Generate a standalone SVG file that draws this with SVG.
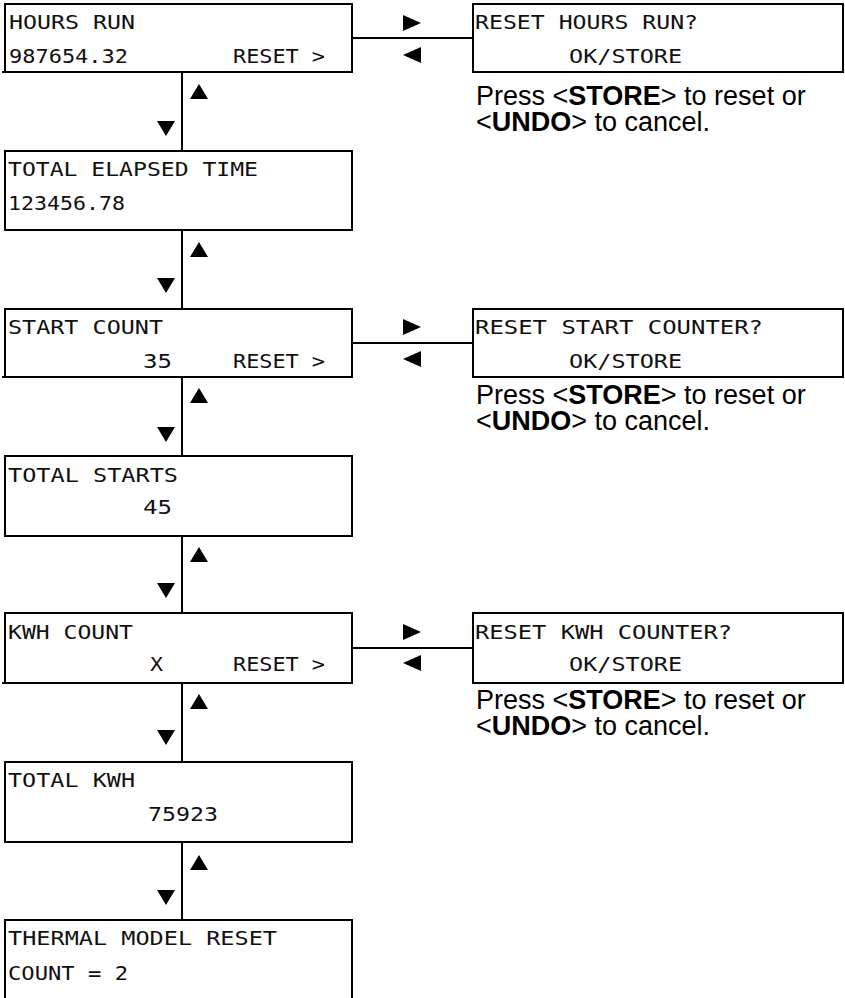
<svg xmlns="http://www.w3.org/2000/svg" width="845" height="998" viewBox="0 0 845 998">
<style>
.box{fill:#fff;stroke:#000;stroke-width:2}
.lcd{font-family:"DejaVu Sans Mono","Liberation Mono",monospace;font-size:20px;fill:#111}
.note{font-family:"Liberation Sans",Arial,sans-serif;font-size:27px;fill:#000}
.note .b{font-weight:bold}
.ln{stroke:#000;stroke-width:2;fill:none}
.tri{fill:#000}
</style>
<defs>
<polygon id="up" points="9,0 18,15 0,15"/>
<polygon id="down" points="0,0 18,0 9,15"/>
<polygon id="right" points="0,0 18,8 0,16"/>
<polygon id="left" points="18,0 0,8 18,16"/>
</defs>
<rect width="845" height="998" fill="#fff"/>
<g id="connectors">
<line class="ln" x1="182" y1="72" x2="182" y2="151"/>
<line class="ln" x1="182" y1="230" x2="182" y2="309"/>
<line class="ln" x1="182" y1="377" x2="182" y2="456"/>
<line class="ln" x1="182" y1="536" x2="182" y2="613"/>
<line class="ln" x1="182" y1="683" x2="182" y2="762"/>
<line class="ln" x1="182" y1="842" x2="182" y2="920"/>
<line class="ln" x1="352" y1="38" x2="473" y2="38"/>
<line class="ln" x1="352" y1="343" x2="473" y2="343"/>
<line class="ln" x1="352" y1="648" x2="473" y2="648"/>
<use href="#up" class="tri" x="190" y="84"/><use href="#down" class="tri" x="157" y="121"/>
<use href="#up" class="tri" x="190" y="242"/><use href="#down" class="tri" x="157" y="278"/>
<use href="#up" class="tri" x="190" y="388"/><use href="#down" class="tri" x="157" y="427"/>
<use href="#up" class="tri" x="190" y="547"/><use href="#down" class="tri" x="157" y="583"/>
<use href="#up" class="tri" x="190" y="694"/><use href="#down" class="tri" x="157" y="730"/>
<use href="#up" class="tri" x="190" y="855"/><use href="#down" class="tri" x="157" y="890"/>
<use href="#right" class="tri" x="403" y="15"/><use href="#left" class="tri" x="403" y="47"/>
<use href="#right" class="tri" x="403" y="319"/><use href="#left" class="tri" x="403" y="351"/>
<use href="#right" class="tri" x="403" y="624"/><use href="#left" class="tri" x="403" y="655"/>
</g>
<g id="hours-run">
<rect class="box" x="5" y="4" width="347" height="68"/>
<line class="ln" x1="2" y1="72" x2="5" y2="72"/>
<text class="lcd" x="9" y="29" textLength="126" lengthAdjust="spacingAndGlyphs">HOURS RUN</text>
<text class="lcd" x="9" y="63" textLength="119" lengthAdjust="spacingAndGlyphs">987654.32</text>
<text class="lcd" x="233" y="63" textLength="92" lengthAdjust="spacingAndGlyphs">RESET &gt;</text>
</g>
<g id="reset-hours">
<rect class="box" x="473" y="4" width="370" height="68"/>
<text class="lcd" x="475" y="29" textLength="223" lengthAdjust="spacingAndGlyphs">RESET HOURS RUN?</text>
<text class="lcd" x="569" y="63" textLength="113" lengthAdjust="spacingAndGlyphs">OK/STORE</text>
<text class="note" x="476" y="105">Press &lt;<tspan class="b">STORE</tspan>&gt; to reset or</text>
<text class="note" x="476" y="131">&lt;<tspan class="b">UNDO</tspan>&gt; to cancel.</text>
</g>
<g id="total-elapsed">
<rect class="box" x="5" y="151" width="347" height="79"/>
<text class="lcd" x="8" y="176" textLength="250" lengthAdjust="spacingAndGlyphs">TOTAL ELAPSED TIME</text>
<text class="lcd" x="8" y="210" textLength="117" lengthAdjust="spacingAndGlyphs">123456.78</text>
</g>
<g id="start-count">
<rect class="box" x="5" y="309" width="347" height="68"/>
<line class="ln" x1="2" y1="377" x2="5" y2="377"/>
<text class="lcd" x="8" y="334" textLength="155" lengthAdjust="spacingAndGlyphs">START COUNT</text>
<text class="lcd" x="143" y="368" textLength="29" lengthAdjust="spacingAndGlyphs">35</text>
<text class="lcd" x="233" y="368" textLength="92" lengthAdjust="spacingAndGlyphs">RESET &gt;</text>
</g>
<g id="reset-start">
<rect class="box" x="473" y="309" width="370" height="68"/>
<text class="lcd" x="475" y="334" textLength="288" lengthAdjust="spacingAndGlyphs">RESET START COUNTER?</text>
<text class="lcd" x="569" y="368" textLength="113" lengthAdjust="spacingAndGlyphs">OK/STORE</text>
<text class="note" x="476" y="404">Press &lt;<tspan class="b">STORE</tspan>&gt; to reset or</text>
<text class="note" x="476" y="430">&lt;<tspan class="b">UNDO</tspan>&gt; to cancel.</text>
</g>
<g id="total-starts">
<rect class="box" x="5" y="456" width="347" height="80"/>
<text class="lcd" x="8" y="482" textLength="170" lengthAdjust="spacingAndGlyphs">TOTAL STARTS</text>
<text class="lcd" x="143" y="514" textLength="29" lengthAdjust="spacingAndGlyphs">45</text>
</g>
<g id="kwh-count">
<rect class="box" x="5" y="613" width="347" height="70"/>
<line class="ln" x1="2" y1="683" x2="5" y2="683"/>
<text class="lcd" x="8" y="639" textLength="125" lengthAdjust="spacingAndGlyphs">KWH COUNT</text>
<text class="lcd" x="150" y="671" textLength="13" lengthAdjust="spacingAndGlyphs">X</text>
<text class="lcd" x="233" y="671" textLength="92" lengthAdjust="spacingAndGlyphs">RESET &gt;</text>
</g>
<g id="reset-kwh">
<rect class="box" x="473" y="613" width="370" height="70"/>
<text class="lcd" x="475" y="639" textLength="257" lengthAdjust="spacingAndGlyphs">RESET KWH COUNTER?</text>
<text class="lcd" x="569" y="671" textLength="113" lengthAdjust="spacingAndGlyphs">OK/STORE</text>
<text class="note" x="476" y="709">Press &lt;<tspan class="b">STORE</tspan>&gt; to reset or</text>
<text class="note" x="476" y="735">&lt;<tspan class="b">UNDO</tspan>&gt; to cancel.</text>
</g>
<g id="total-kwh">
<rect class="box" x="5" y="762" width="347" height="80"/>
<text class="lcd" x="8" y="787" textLength="127" lengthAdjust="spacingAndGlyphs">TOTAL KWH</text>
<text class="lcd" x="148" y="821" textLength="70" lengthAdjust="spacingAndGlyphs">75923</text>
</g>
<g id="thermal-model">
<path class="ln" d="M5,1000 V920 H352 V1000"/>
<text class="lcd" x="8" y="945" textLength="269" lengthAdjust="spacingAndGlyphs">THERMAL MODEL RESET</text>
<text class="lcd" x="8" y="980" textLength="120" lengthAdjust="spacingAndGlyphs">COUNT = 2</text>
</g>
</svg>
